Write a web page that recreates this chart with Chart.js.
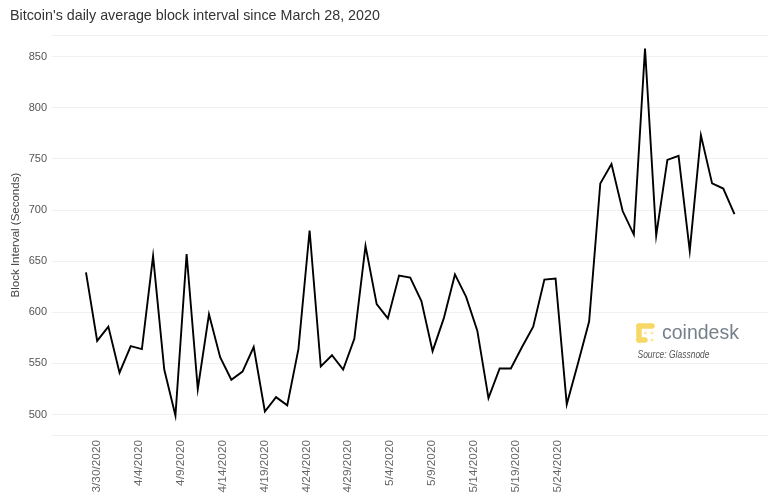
<!DOCTYPE html>
<html>
<head>
<meta charset="utf-8">
<script src="https://cdn.jsdelivr.net/npm/chart.js@4"></script>
<style>
  html, body { margin: 0; padding: 0; background: #fff; }
  #wrap { width: 775px; height: 500px; }
</style>
</head>
<body>
<div id="wrap"><canvas id="blockChart" width="775" height="500"></canvas></div>
<script>
var days = [
  '3/28/2020', '3/29/2020', '3/30/2020', '3/31/2020', '4/1/2020', '4/2/2020', '4/3/2020',
  '4/4/2020', '4/5/2020', '4/6/2020', '4/7/2020', '4/8/2020', '4/9/2020', '4/10/2020',
  '4/11/2020', '4/12/2020', '4/13/2020', '4/14/2020', '4/15/2020', '4/16/2020', '4/17/2020',
  '4/18/2020', '4/19/2020', '4/20/2020', '4/21/2020', '4/22/2020', '4/23/2020', '4/24/2020',
  '4/25/2020', '4/26/2020', '4/27/2020', '4/28/2020', '4/29/2020', '4/30/2020', '5/1/2020',
  '5/2/2020', '5/3/2020', '5/4/2020', '5/5/2020', '5/6/2020', '5/7/2020', '5/8/2020',
  '5/9/2020', '5/10/2020', '5/11/2020', '5/12/2020', '5/13/2020', '5/14/2020', '5/15/2020',
  '5/16/2020', '5/17/2020', '5/18/2020', '5/19/2020', '5/20/2020', '5/21/2020', '5/22/2020',
  '5/23/2020', '5/24/2020', '5/25/2020'
];

var blockInterval = [
  639, 572, 586, 541, 567, 564, 655, 544, 499, 657,
  525, 598, 556, 534, 542, 566, 503, 517, 509, 564,
  680, 547, 558, 544, 574, 665, 608, 594, 636, 634,
  611, 562, 594, 637, 615, 582, 516, 545, 545, 566,
  586, 632, 633, 510, 550, 591, 726, 745, 699, 676,
  858, 675, 749, 753, 660, 773, 726, 721, 696
];

var tickLabels = [
  '3/30/2020', '4/4/2020', '4/9/2020', '4/14/2020', '4/19/2020', '4/24/2020',
  '4/29/2020', '5/4/2020', '5/9/2020', '5/14/2020', '5/19/2020', '5/24/2020'
];

var yTicks = [500, 550, 600, 650, 700, 750, 800, 850];

var FONT = "'Liberation Sans', Arial, sans-serif";

// coindesk mark + source line in the lower right
var brandPlugin = {
  id: 'brand',
  afterDraw: function (chart) {
    var ctx = chart.ctx;
    ctx.save();
    var gold = '#f7d867';
    var pale = '#fae9a8';
    function dot(x, y, r, c) {
      ctx.fillStyle = c;
      ctx.beginPath();
      ctx.arc(x, y, r, 0, Math.PI * 2);
      ctx.fill();
    }
    function bar(x1, y1, x2, y2, w) {
      ctx.strokeStyle = gold;
      ctx.lineWidth = w;
      ctx.lineCap = 'round';
      ctx.beginPath();
      ctx.moveTo(x1, y1);
      ctx.lineTo(x2, y2);
      ctx.stroke();
    }
    bar(639, 326, 652, 326, 5.5);
    bar(639, 326, 639, 340, 5.5);
    bar(639, 340, 645, 340, 5.5);
    dot(652, 340, 1.6, pale);
    dot(645.5, 333, 1.6, pale);
    dot(652, 333, 1.6, pale);

    ctx.fillStyle = '#76808c';
    ctx.font = '19.5px ' + FONT;
    ctx.textBaseline = 'alphabetic';
    ctx.fillText('coindesk', 662, 339, 78);

    ctx.fillStyle = '#555';
    ctx.font = 'italic 10px ' + FONT;
    ctx.fillText('Source: Glassnode', 637.5, 357.5, 72);
    ctx.restore();
  }
};

new Chart(document.getElementById('blockChart'), {
  type: 'line',
  data: {
    datasets: [{
      label: 'Block Interval (Seconds)',
      data: blockInterval.map(function (v, i) { return { x: i, y: v, day: days[i] }; }),
      borderColor: '#000',
      borderWidth: 1.9,
      pointRadius: 0,
      tension: 0,
      fill: false
    }]
  },
  options: {
    responsive: false,
    animation: false,
    layout: { padding: { left: 10, right: 7, top: 0, bottom: 0 } },
    plugins: {
      legend: { display: false },
      tooltip: { enabled: false },
      title: {
        display: true,
        text: "Bitcoin's daily average block interval since March 28, 2020",
        align: 'start',
        color: '#333',
        font: { family: FONT, size: 14.3, weight: 'normal', lineHeight: 1.2 },
        padding: { top: 7, bottom: 11 }
      }
    },
    scales: {
      x: {
        type: 'linear',
        display: false,
        min: -3.04,
        max: 61.0
      },
      xl: {
        type: 'linear',
        position: 'bottom',
        min: -1.075,
        max: 16.025,
        grid: { display: false },
        border: { display: false },
        afterBuildTicks: function (scale) {
          scale.ticks = tickLabels.map(function (_, i) { return { value: i }; });
        },
        afterFit: function (scale) { scale.height = 65; },
        ticks: {
          autoSkip: false,
          minRotation: 90,
          maxRotation: 90,
          padding: -3,
          color: '#666',
          font: { family: FONT, size: 11.8 },
          callback: function (v) { return tickLabels[v]; }
        }
      },
      y: {
        min: 480,
        max: 871,
        grid: { color: '#f0f0f0', drawTicks: false, lineWidth: 1 },
        border: { display: false },
        afterBuildTicks: function (scale) {
          scale.ticks = [{ value: 480 }].concat(
            yTicks.map(function (v) { return { value: v }; }),
            [{ value: 871 }]
          );
        },
        afterFit: function (scale) { scale.width = 42; },
        title: {
          display: true,
          text: 'Block Interval (Seconds)',
          color: '#444',
          font: { family: FONT, size: 11.5, lineHeight: 1 },
          padding: { top: 0, bottom: 0 }
        },
        ticks: {
          padding: 5,
          color: '#555',
          font: { family: FONT, size: 11 },
          callback: function (v) { return yTicks.indexOf(v) >= 0 ? v : ''; }
        }
      }
    }
  },
  plugins: [brandPlugin]
});
</script>
</body>
</html>
